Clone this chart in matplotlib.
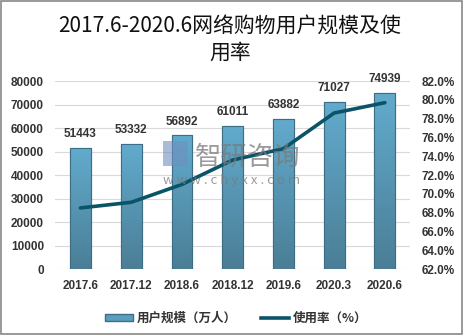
import matplotlib
matplotlib.use("Agg")
import matplotlib.pyplot as plt
import numpy as np
from matplotlib.patches import Rectangle
from matplotlib.lines import Line2D
from matplotlib.colors import LinearSegmentedColormap

categories = ["2017.6", "2017.12", "2018.6", "2018.12", "2019.6", "2020.3", "2020.6"]
users = [51443, 53332, 56892, 61011, 63882, 71027, 74939]
rate = [68.5, 69.1, 71.0, 73.6, 74.8, 78.6, 79.7]
left_ticks = [0, 10000, 20000, 30000, 40000, 50000, 60000, 70000, 80000]
right_ticks = [62, 64, 66, 68, 70, 72, 74, 76, 78, 80, 82]

plt.rcParams['font.family'] = ['Noto Sans CJK SC', 'DejaVu Sans']

fig = plt.figure(figsize=(4.63, 3.35), dpi=100)
ax = fig.add_axes([0.119, 0.197, 0.767, 0.561])
x = np.arange(len(categories))

bars = ax.bar(x, users, width=0.41, color='#5a9dbd', edgecolor='#3e6e85', linewidth=0.8, zorder=2)
grad = np.linspace(0, 1, 256).reshape(-1, 1)
cmap = LinearSegmentedColormap.from_list('g', ['#4b7e96', '#62abcd'])
for b in bars:
    x0, w, h = b.get_x(), b.get_width(), b.get_height()
    im = ax.imshow(grad, cmap=cmap, aspect='auto', origin='lower',
                   extent=[x0, x0 + w, 0, h], zorder=2.1)
    im.set_clip_path(b)
for b in bars:
    ax.add_patch(Rectangle((b.get_x(), 0), b.get_width(), b.get_height(), fill=False,
                           edgecolor='#3e6e85', linewidth=0.8, zorder=2.2))

for xi, v in zip(x, users):
    ax.text(xi, v + 3300, str(v), ha='center', va='bottom', fontsize=8.5,
            fontweight='bold', color='#333333', family='Liberation Sans', zorder=5)

ax.set_xlim(-0.5, len(categories) - 0.5)
ax.set_ylim(0, 80000)
ax.set_yticks(left_ticks)
ax.set_yticklabels([str(t) for t in left_ticks])
ax.set_xticks(x)
ax.set_xticklabels(categories)
ax.grid(axis='y', color='#d9d9d9', linewidth=0.8, zorder=0)
ax.set_axisbelow(True)
for s in ax.spines.values():
    s.set_visible(False)
ax.tick_params(axis='both', length=0, labelsize=8.5, colors='#333333')
ax.tick_params(axis='y', pad=8)
ax.tick_params(axis='x', pad=8)
for lab in ax.get_xticklabels() + ax.get_yticklabels():
    lab.set_fontweight('bold')
    lab.set_family('Liberation Sans')

ax2 = ax.twinx()
ax2.plot(x, rate, color='#0b5468', linewidth=2.6, zorder=6, solid_capstyle='round')
ax2.set_ylim(62, 82)
ax2.set_yticks(right_ticks)
ax2.set_yticklabels([f"{t:.1f}%" for t in right_ticks])
for s in ax2.spines.values():
    s.set_visible(False)
ax2.tick_params(axis='y', length=0, labelsize=8.5, colors='#333333', pad=8)
for lab in ax2.get_yticklabels():
    lab.set_fontweight('bold')
    lab.set_family('Liberation Sans')

# watermark
fig.add_artist(Rectangle((0.352, 0.505), 0.055, 0.075, transform=fig.transFigure,
                         facecolor='#6f8fc0', edgecolor='none', alpha=0.6, zorder=10))
fig.text(0.535, 0.53, "智研咨询", fontsize=19, color='#7a7a7a', alpha=0.75,
         ha='center', va='center', zorder=10)
fig.text(0.50, 0.462, "w w w . c h y x x . c o m", fontsize=9.5, color='#7a7a7a', alpha=0.75,
         ha='center', va='center', zorder=10)

fig.text(0.497, 0.922, "2017.6-2020.6网络购物用户规模及使", fontsize=15, ha='center', va='center', color='#111111')
fig.text(0.497, 0.843, "用率", fontsize=15, ha='center', va='center', color='#111111')

handles = [Rectangle((0, 0), 1, 1, facecolor='#5a9dbd', edgecolor='#3e6e85'),
           Line2D([0], [0], color='#0b5468', linewidth=2.6)]
leg = fig.legend(handles, ["用户规模（万人）", "使用率（%）"], loc='center',
                 bbox_to_anchor=(0.51, 0.05), ncol=2, frameon=False,
                 prop={'size': 9, 'weight': 'bold'}, handlelength=2.2,
                 handleheight=0.5, handletextpad=0.3, columnspacing=2.0)
for t in leg.get_texts():
    t.set_color('#333333')

fig.add_artist(Rectangle((0.002, 0.003), 0.996, 0.994, transform=fig.transFigure,
                         fill=False, edgecolor='#888888', linewidth=1.2))

fig.savefig("out.png", dpi=100)
